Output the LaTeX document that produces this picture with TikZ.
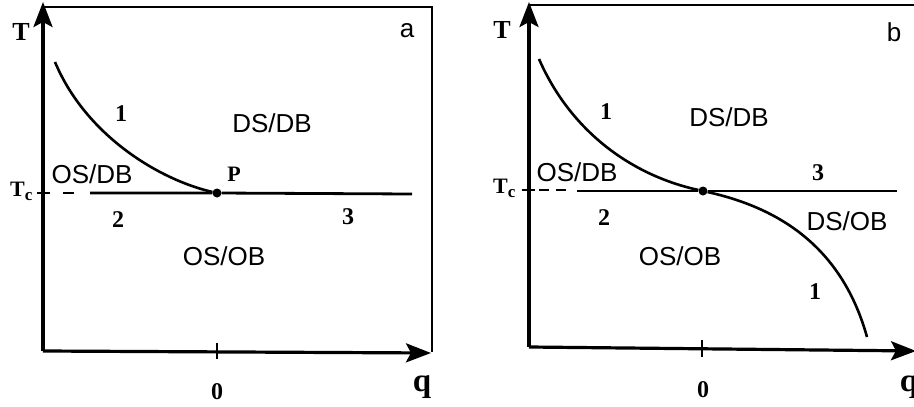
\documentclass[tikz,border=0pt]{standalone}
\usepackage{fontspec}
\setmainfont{Liberation Serif}
\newfontfamily\sansf{Liberation Sans}
\usetikzlibrary{arrows.meta}
\tikzset{
  axis/.style={line width=3.2pt, -{Stealth[length=25pt,width=19pt,inset=5pt]}},
  boxline/.style={line width=2.2pt},
  curve/.style={line width=2.6pt},
  tcline/.style={line width=2.8pt},
  ticky/.style={line width=2.4pt},
  region/.style={font=\sansf\fontsize{26}{26}\selectfont, inner sep=0pt},
  num/.style={font=\bfseries\fontsize{24}{24}\selectfont, inner sep=0pt},
  axlab/.style={font=\bfseries\fontsize{26}{26}\selectfont, inner sep=0pt},
  qlab/.style={font=\bfseries\fontsize{33}{33}\selectfont, inner sep=0pt},
  panel/.style={font=\sansf\fontsize{26}{26}\selectfont, inner sep=0pt},
  tclab/.style={font=\bfseries\fontsize{22}{22}\selectfont, inner sep=0pt, anchor=base west},
  dot/.style={circle, fill=black, inner sep=0pt, minimum size=9pt}
}
\begin{document}
\begin{tikzpicture}[x=1pt,y=-1pt]
\useasboundingbox (0,0) rectangle (914,407);
% ================= panel a =================
\coordinate (aO) at (43,351);
\coordinate (aTtop) at (43,2);
\coordinate (aQend) at (431,353);
\coordinate (aTL) at (43,7);
\coordinate (aTR) at (432,7);
\coordinate (aBR) at (432,352);
\draw[boxline] (aTL) -- (aTR) -- (aBR);
\draw[axis] (aO) -- (aTtop);
\draw[axis] (aO) -- (aQend);
\coordinate (aTk1) at (217,343);
\coordinate (aTk2) at (217,359);
\draw[ticky] (aTk1) -- (aTk2);
% Tc line
\coordinate (aC1) at (37,193);
\coordinate (aC2) at (50,193);
\coordinate (aD1) at (63,193);
\coordinate (aD2) at (74,193);
\coordinate (aS1) at (90,193);
\coordinate (aS2) at (412,194);
\draw[ticky] (aC1) -- (aC2);
\draw[tcline] (aD1) -- (aD2);
\node[dot] (P) at (217,193) {};
\draw[tcline] (aS1) -- (P) -- (aS2);
\coordinate (aK) at (55,62);
\draw[curve] (aK) .. controls (86,136) and (160,180) .. (P);
% labels
\node[axlab] (aT) at (21,32) {T};
\node[panel] (alab) at (407,31) {a};
\node[num] (a1) at (121,114) {1};
\node[region] (aDSDB) at (272,123) {DS/DB};
\node[region] (aOSDB) at (92,174) {OS/DB};
\node[font=\bfseries\fontsize{22}{22}\selectfont, inner sep=0pt] (aP) at (234,174) {P};
\node[tclab] (aTc) at (10,196) {T\raisebox{-0.45ex}{\fontsize{17}{17}\selectfont c}};
\node[num] (a2) at (118,220) {2};
\node[num] (a3) at (348,217) {3};
\node[region] (aOSOB) at (224,256) {OS/OB};
\node[num] (a0) at (217,392) {0};
\node[qlab] (aq) at (422,387) {q};
% ================= panel b =================
\coordinate (bO) at (529,347);
\coordinate (bTtop) at (529,2);
\coordinate (bQend) at (916,351);
\coordinate (bTL) at (529,5);
\coordinate (bTR) at (914,5);
\draw[boxline] (bTL) -- (bTR);
\draw[axis] (bO) -- (bTtop);
\draw[axis] (bO) -- (bQend);
\coordinate (bTk1) at (702,340);
\coordinate (bTk2) at (702,357);
\draw[ticky] (bTk1) -- (bTk2);
\coordinate (bC1) at (522,190);
\coordinate (bC2) at (535,190);
\coordinate (bD1) at (539,190);
\coordinate (bD2) at (549,190);
\coordinate (bE1) at (556,190);
\coordinate (bE2) at (566,190);
\coordinate (bS1) at (577,191);
\coordinate (bS2) at (897,191);
\draw[ticky] (bC1) -- (bC2);
\draw[tcline] (bD1) -- (bD2);
\draw[tcline] (bE1) -- (bE2);
\node[dot] (Q) at (703,191) {};
\draw[tcline] (bS1) -- (Q) -- (bS2);
\coordinate (bK1) at (539,59);
\coordinate (bK2) at (867,337);
\draw[curve] (bK1) .. controls (570,130) and (630,175) .. (Q)
  .. controls (770,206) and (840,240) .. (bK2);
% labels
\node[axlab] (bT) at (502,30) {T};
\node[panel] (blab) at (894,32) {b};
\node[num] (b1u) at (606,112) {1};
\node[region] (bDSDB) at (729,117) {DS/DB};
\node[region] (bOSDB) at (577,172) {OS/DB};
\node[num] (b3) at (818,173) {3};
\node[tclab] (bTc) at (493,193) {T\raisebox{-0.45ex}{\fontsize{17}{17}\selectfont c}};
\node[num] (b2) at (604,218) {2};
\node[region] (bDSOB) at (847,221) {DS/OB};
\node[region] (bOSOB) at (680,256) {OS/OB};
\node[num] (b1l) at (815,292) {1};
\node[num] (b0) at (703,390) {0};
\node[qlab] (bq) at (909,387) {q};
\end{tikzpicture}
\end{document}
